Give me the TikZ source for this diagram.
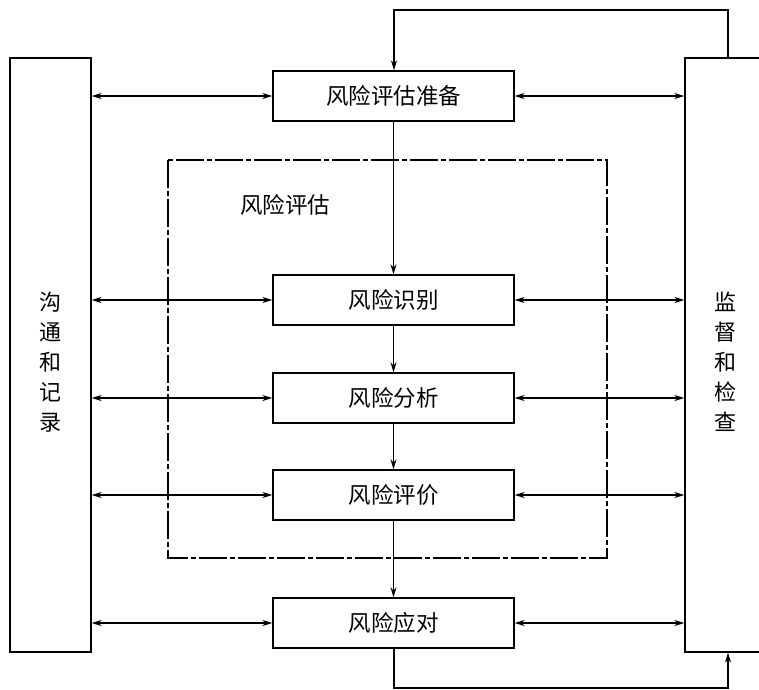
\documentclass[tikz,border=0pt]{standalone}
\usepackage{fontspec}
\setmainfont{Noto Sans CJK SC}
\usetikzlibrary{arrows.meta}
\begin{document}
\begin{tikzpicture}[x=1pt,y=-1pt,
  line width=1.3pt,
  cbox/.style={draw, minimum width=241pt, minimum height=50pt, inner sep=0pt,
    font=\fontsize{22.5}{26}\selectfont},
  sidebox/.style={draw, minimum width=81pt, minimum height=594pt, inner sep=0pt},
  vtext/.style={align=center, inner sep=0pt, font=\fontsize{22}{30}\selectfont},
  arr/.style={-{Stealth[length=10pt,width=6pt]}},
  darr/.style={{Stealth[length=10pt,width=6pt]}-{Stealth[length=10pt,width=6pt]}},
  dashdot/.style={line width=1.2pt, dash pattern=on 28pt off 3pt on 5pt off 3pt}
]
\useasboundingbox (0,0) rectangle (759,689);
\clip (0,0) rectangle (759,689);
\node[sidebox] (L) at (50.5,355) {};
\node[sidebox, minimum width=110pt] (R) at (740,355) {};
\node[vtext] (Lt) at (50,362) {沟\\通\\和\\记\\录};
\node[vtext] (Rt) at (725,362) {监\\督\\和\\检\\查};

\draw[dashdot] (168,160) rectangle (607,558);
\node[font=\fontsize{22.5}{26}\selectfont] (ev) at (285,205) {风险评估};

\node[cbox] (p) at (393.5,96) {风险评估准备};
\node[cbox] (a) at (393.5,300) {风险识别};
\node[cbox] (b) at (393.5,398) {风险分析};
\node[cbox] (c) at (393.5,495) {风险评价};
\node[cbox] (d) at (393.5,623) {风险应对};

\draw[arr] (p) -- (a);
\draw[arr] (a) -- (b);
\draw[arr] (b) -- (c);
\draw[arr] (c) -- (d);

\foreach \n in {p,a,b,c,d}{
  \draw[darr] (L.east |- \n.west) -- (\n.west);
  \draw[darr] (\n.east) -- (R.west |- \n.east);
}

\coordinate (tr) at (728,10);
\coordinate (tl) at (394,10);
\draw[arr] (R.north -| tr) -- (tr) -- (tl) -- (p.north -| tl);
\coordinate (bl) at (394,688);
\coordinate (br) at (728,688);
\draw[arr] (d.south -| bl) -- (bl) -- (br) -- (R.south -| br);
\end{tikzpicture}
\end{document}
